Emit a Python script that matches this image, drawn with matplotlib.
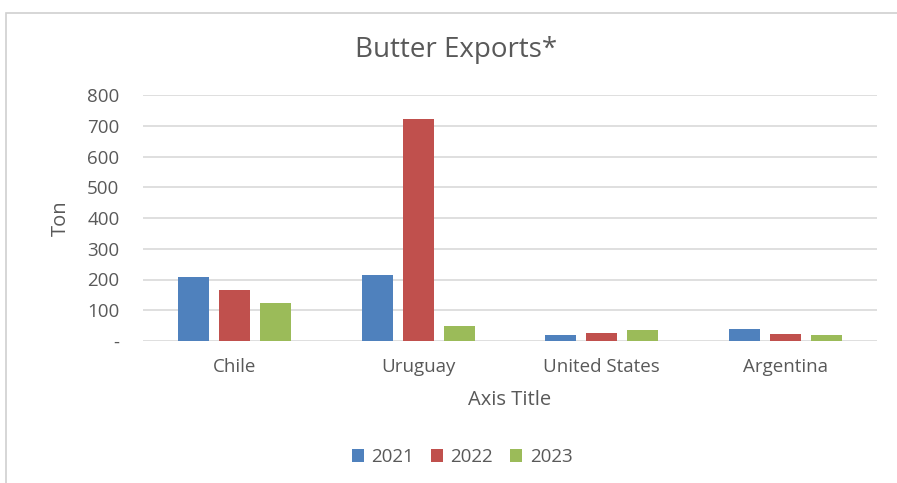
import matplotlib
matplotlib.use('Agg')
import matplotlib.pyplot as plt
import numpy as np
from matplotlib.patches import Rectangle

# data
countries = ['Chile', 'Uruguay', 'United States', 'Argentina']
years = ['2021', '2022', '2023']
exports_2021 = [207, 215, 19, 40]
exports_2022 = [167, 723, 27, 23]
exports_2023 = [123, 50, 37, 19]
yticks = [0, 100, 200, 300, 400, 500, 600, 700, 800]
ytick_labels = ['-', '100', '200', '300', '400', '500', '600', '700', '800']

colors = ['#4F81BD', '#C0504D', '#9BBB59']
text_color = '#595959'
grid_color = '#D9D9D9'

plt.rcParams['font.family'] = ['Open Sans', 'DejaVu Sans']

W, H = 897, 483
fig = plt.figure(figsize=(W / 100, H / 100), dpi=100)
fig.patch.set_facecolor('white')

# chart frame
fig.patches.append(Rectangle((6 / W, -0.05), 1.2, 1 - 13 / H + 0.05, transform=fig.transFigure,
                             fill=False, edgecolor='#D0D0D0', linewidth=1.2))

ax = fig.add_axes([143 / W, 1 - 341 / H, (877 - 143) / W, (341 - 95) / H])

x = np.arange(len(countries))
width = 0.17
step = 0.223
series = [exports_2021, exports_2022, exports_2023]
for i, (yr, vals) in enumerate(zip(years, series)):
    ax.bar(x + (i - 1) * step, vals, width, color=colors[i], label=yr, zorder=3)

ax.set_xlim(-0.5, len(countries) - 0.5)
ax.set_ylim(0, 800)
ax.set_yticks(yticks)
ax.set_yticklabels(ytick_labels)
ax.set_xticks(x)
ax.set_xticklabels(countries)
ax.tick_params(length=0, colors=text_color, labelsize=13.5)
ax.tick_params(axis='x', pad=12)
ax.tick_params(axis='y', pad=17)
ax.yaxis.grid(True, color=grid_color, linewidth=1.2, zorder=0)
ax.set_axisbelow(True)
for s in ax.spines.values():
    s.set_visible(False)

ax.set_ylabel('Ton', color=text_color, fontsize=14.5, labelpad=12)
ax.set_xlabel('Axis Title', color=text_color, fontsize=14.5, labelpad=10)

fig.text(456 / W, 1 - 50 / H, 'Butter Exports*', ha='center', va='center',
         fontsize=20, color=text_color)

leg = fig.legend(loc='center', bbox_to_anchor=(462 / W, 1 - 457 / H), ncol=3,
                 frameon=False, fontsize=13.5, handlelength=0.65, handleheight=0.65,
                 handletextpad=0.4, columnspacing=0.9)
for t in leg.get_texts():
    t.set_color(text_color)

fig.savefig('out.png', dpi=100)
